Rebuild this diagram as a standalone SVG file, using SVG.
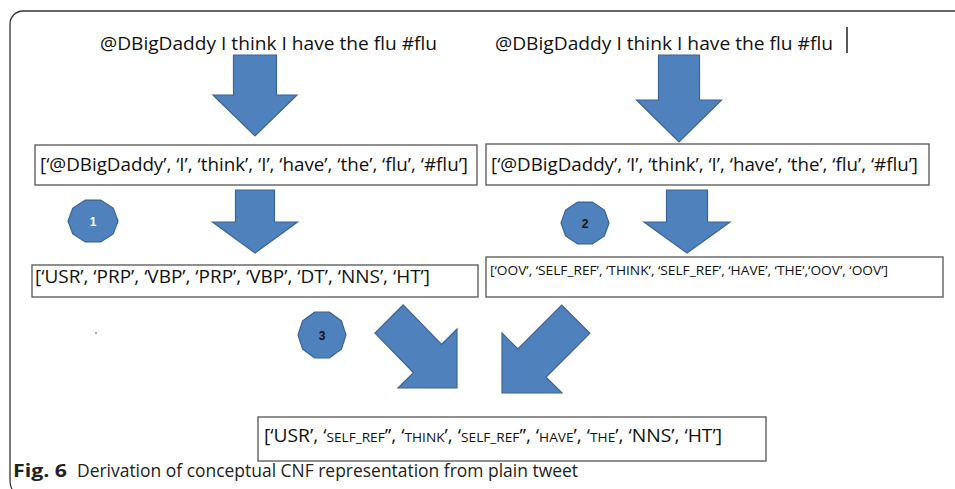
<svg xmlns="http://www.w3.org/2000/svg" width="955" height="489" viewBox="0 0 955 489">
  <style>
    .frame { fill: none; stroke: #333; stroke-width: 1.3; }
    .box { fill: #fff; stroke: #555; stroke-width: 1.3; }
    .arrow { fill: #4F81BD; stroke: #3A6496; stroke-width: 1.2; stroke-linejoin: miter; }
    .badge { fill: #4F81BD; stroke: #3A6496; stroke-width: 1.2; }
    .t { font-family: "Open Sans", "Liberation Sans", sans-serif; fill: #111; }
    .big { font-size: 19px; }
    .small { font-size: 13.5px; }
    .sc { font-size: 13.5px; }
    .num { font-family: "Liberation Sans", "Open Sans", sans-serif; font-size: 12px; font-weight: bold; text-anchor: middle; }
    .cap { font-family: "Open Sans", "Noto Sans", sans-serif; font-size: 18px; fill: #222; }
  </style>

  <!-- outer frame of the figure panel -->
  <path class="frame" d="M955 11 H23 A13 13 0 0 0 10 24 V480 Q10 486 12 489"/>

  <!-- source tweets -->
  <g id="tweet-left">
    <text class="t big" x="100" y="50" textLength="337" lengthAdjust="spacingAndGlyphs">@DBigDaddy I think I have the flu #flu</text>
  </g>
  <g id="tweet-right">
    <text class="t big" x="495" y="50" textLength="338" lengthAdjust="spacingAndGlyphs">@DBigDaddy I think I have the flu #flu</text>
    <line x1="847" y1="27" x2="847" y2="53" stroke="#222" stroke-width="1.5"/>
  </g>

  <!-- token lists -->
  <g id="tokens-left">
    <rect class="box" x="35" y="145" width="442" height="40"/>
    <text class="t big" x="40" y="171" textLength="428" lengthAdjust="spacingAndGlyphs">[‘@DBigDaddy’, ‘I’, ‘think’, ‘I’, ‘have’, ‘the’, ‘flu’, ‘#flu’]</text>
  </g>
  <g id="tokens-right">
    <rect class="box" x="486" y="144" width="443" height="41"/>
    <text class="t big" x="491" y="171" textLength="427" lengthAdjust="spacingAndGlyphs">[‘@DBigDaddy’, ‘I’, ‘think’, ‘I’, ‘have’, ‘the’, ‘flu’, ‘#flu’]</text>
  </g>

  <!-- POS tags -->
  <g id="pos-tags">
    <rect class="box" x="32" y="265" width="446" height="32"/>
    <text class="t big" x="35" y="283" textLength="395" lengthAdjust="spacingAndGlyphs">[‘USR’, ‘PRP’, ‘VBP’, ‘PRP’, ‘VBP’, ‘DT’, ‘NNS’, ‘HT’]</text>
  </g>

  <!-- concept tags -->
  <g id="concept-tags">
    <rect class="box" x="486" y="257" width="457" height="40"/>
    <text class="t small" x="490" y="275" textLength="398" lengthAdjust="spacingAndGlyphs">[‘OOV’, ‘SELF_REF’, ‘THINK’, ‘SELF_REF’, ‘HAVE’, ‘THE’,‘OOV’, ‘OOV’]</text>
  </g>

  <!-- combined representation -->
  <g id="cnf-result">
    <rect class="box" x="258" y="417" width="508" height="44"/>
    <text class="t big" x="264" y="442" textLength="458" lengthAdjust="spacingAndGlyphs">[‘USR’, ‘<tspan class="sc">SELF_REF</tspan>’’, ‘<tspan class="sc">THINK</tspan>’, ‘<tspan class="sc">SELF_REF</tspan>’’, ‘<tspan class="sc">HAVE</tspan>’, ‘<tspan class="sc">THE</tspan>’, ‘NNS’, ‘HT’]</text>
  </g>

  <!-- step badges -->
  <g id="step-1">
    <polygon class="badge" points="118,221 113.2,233.9 100.7,241.9 85.3,241.9 72.8,233.9 68,221 72.8,208.1 85.3,200.1 100.7,200.1 113.2,208.1"/>
    <text class="num" x="93" y="226" fill="#fff">1</text>
  </g>
  <g id="step-2">
    <polygon class="badge" points="609,223 604.4,235.9 592.4,243.9 577.6,243.9 565.6,235.9 561,223 565.6,210.1 577.6,202.1 592.4,202.1 604.4,210.1"/>
    <text class="num" x="585" y="228" fill="#111">2</text>
  </g>
  <g id="step-3">
    <polygon class="badge" points="346,335 341.4,349.1 329.4,357.8 314.6,357.8 302.6,349.1 298,335 302.6,320.9 314.6,312.2 329.4,312.2 341.4,320.9"/>
    <text class="num" x="322" y="340" fill="#111">3</text>
  </g>

  <!-- block arrows between stages -->
  <g id="connectors">
    <polygon class="arrow" points="233.5,55 276.5,55 276.5,95 297,95 255,136 213,95 233.5,95"/>
    <polygon class="arrow" points="658.5,55 699.5,55 699.5,100 721.5,100 679,142 636.5,100 658.5,100"/>
    <polygon class="arrow" points="235.5,190 274.5,190 274.5,222 297.5,222 255,253 212.5,222 235.5,222"/>
    <polygon class="arrow" points="666.5,190 707.5,190 707.5,222 730,222 687,253 644,222 666.5,222"/>
    <polygon class="arrow" points="374.9,333.1 403.1,304.9 441.6,344.4 457,329 457,388 398,388 413.4,372.6"/>
    <polygon class="arrow" points="561.7,305.1 589.9,333.3 546.1,377.1 562,393 502,393 502,333 517.9,348.9"/>
  </g>

  <!-- stray mark -->
  <rect x="95" y="332" width="2" height="2" fill="#aaa"/>

  <!-- caption -->
  <text class="cap" x="13" y="477" font-size="19" font-weight="bold" textLength="54" lengthAdjust="spacingAndGlyphs">Fig. 6</text>
  <text class="cap" x="77" y="477" textLength="501" lengthAdjust="spacingAndGlyphs">Derivation of conceptual CNF representation from plain tweet</text>
</svg>
